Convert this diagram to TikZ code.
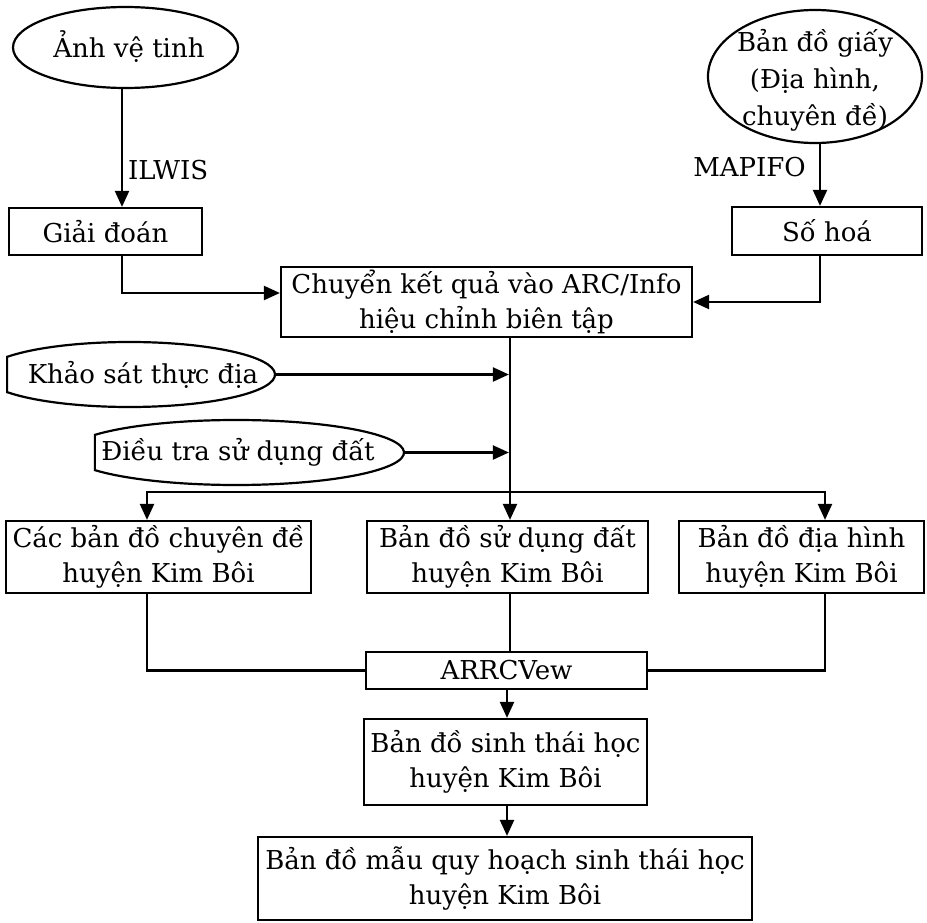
\documentclass[tikz,border=0pt]{standalone}
\usepackage{fontspec}
\setmainfont{DejaVu Serif}
\usetikzlibrary{shapes.geometric,arrows.meta,calc}
\begin{document}
\begin{tikzpicture}[x=1pt,y=-1pt,
  every node/.style={font=\fontsize{26}{35}\selectfont, align=center, inner sep=0pt},
  box/.style={draw, line width=2.2pt, rectangle},
  oval/.style={draw, line width=2.2pt, ellipse},
  arr/.style={line width=2.2pt, -{Triangle[length=16pt,width=14pt]}},
  ln/.style={line width=2.2pt}]
\useasboundingbox (0,0) rectangle (927,923);
% top ovals
\node[oval, minimum width=225pt, minimum height=81pt] (anh) at (125.5,47.5) {};
\node (anhT) at (129,47) {Ảnh vệ tinh};
\node[oval, minimum width=214pt, minimum height=133pt] (bdg) at (815,76.5) {};
\node[font=\fontsize{26}{37}\selectfont] (bdgT) at (815,80) {Bản đồ giấy\\(Địa hình,\\chuyên đề)};
% boxes
\node[box, minimum width=193pt, minimum height=47pt] (gd) at (105.5,231.5) {Giải đoán};
\node[box, minimum width=190pt, minimum height=48pt] (sh) at (827,231) {Số hoá};
\node[box, minimum width=411pt, minimum height=70pt] (ch) at (486.5,302) {Chuyển kết quả vào ARC/Info\\hiệu chỉnh biên tập};
% truncated ovals
\node[ellipse, minimum width=291.2pt, minimum height=65pt] (ks) at (129.4,374.5) {};
\draw[ln] (ks.center) ++(147.14:145.6pt and 32.5pt) arc[start angle=147.14, end angle=-147.14, x radius=145.6pt, y radius=32.5pt] -- cycle;
\node (ksT) at (143,375) {Khảo sát thực địa};
\node[ellipse, minimum width=336pt, minimum height=65pt] (dt) at (236,452.5) {};
\draw[ln] (dt.center) ++(147.14:168pt and 32.5pt) arc[start angle=147.14, end angle=-147.14, x radius=168pt, y radius=32.5pt] -- cycle;
\node (dtT) at (238,452) {Điều tra sử dụng đất};
% row of maps
\node[box, minimum width=305pt, minimum height=72pt] (c1) at (158.5,557) {Các bản đồ chuyên đề\\huyện Kim Bôi};
\node[box, minimum width=281pt, minimum height=72pt] (c2) at (507.5,557) {Bản đồ sử dụng đất\\huyện Kim Bôi};
\node[box, minimum width=245pt, minimum height=72pt] (c3) at (801.5,557) {Bản đồ địa hình\\huyện Kim Bôi};
\node[box, minimum width=281pt, minimum height=37pt] (arc) at (506.5,670.5) {ARRCVew};
\node[box, minimum width=283pt, minimum height=86pt] (st) at (505.5,762) {Bản đồ sinh thái học\\huyện Kim Bôi};
\node[box, minimum width=494pt, minimum height=83pt] (bm) at (505,878.5) {Bản đồ mẫu quy hoạch sinh thái học\\huyện Kim Bôi};
% labels
\node[anchor=west] (ilw) at (128,170) {ILWIS};
\node[anchor=east] (map) at (806,167) {MAPIFO};
% column coordinates
\coordinate (xL) at (122,0);
\coordinate (xR) at (820,0);
\coordinate (xM) at (510,0);
\coordinate (xc1) at (147,0);
\coordinate (xc3) at (825,0);
\coordinate (xB) at (507,0);
\coordinate (hb) at (510,492);
% connectors
\draw[arr] (anh.south -| xL) -- (gd.north -| xL);
\draw[arr] (bdg.south -| xR) -- (sh.north -| xR);
\draw[arr] (gd.south -| xL) |- ($(ch.west)+(0,-9)$);
\draw[arr] (sh.south -| xR) |- (ch.east);
\draw[arr] (ch.south -| xM) -- (c2.north -| xM);
\draw[arr, shorten >=1.1pt] (ks.east) -- (ks.east -| xM);
\draw[arr, shorten >=1.1pt] (dt.east) -- (dt.east -| xM);
\draw[arr] (hb) -| (c1.north -| xc1);
\draw[arr] (hb) -| (c3.north -| xc3);
\draw[ln] (c1.south -| xc1) |- (arc.west);
\draw[ln] (c3.south -| xc3) |- (arc.east);
\draw[ln] (c2.south -| xM) -- (arc.north -| xM);
\draw[arr] (arc.south -| xB) -- (st.north -| xB);
\draw[arr] (st.south -| xB) -- (bm.north -| xB);
\end{tikzpicture}
\end{document}
